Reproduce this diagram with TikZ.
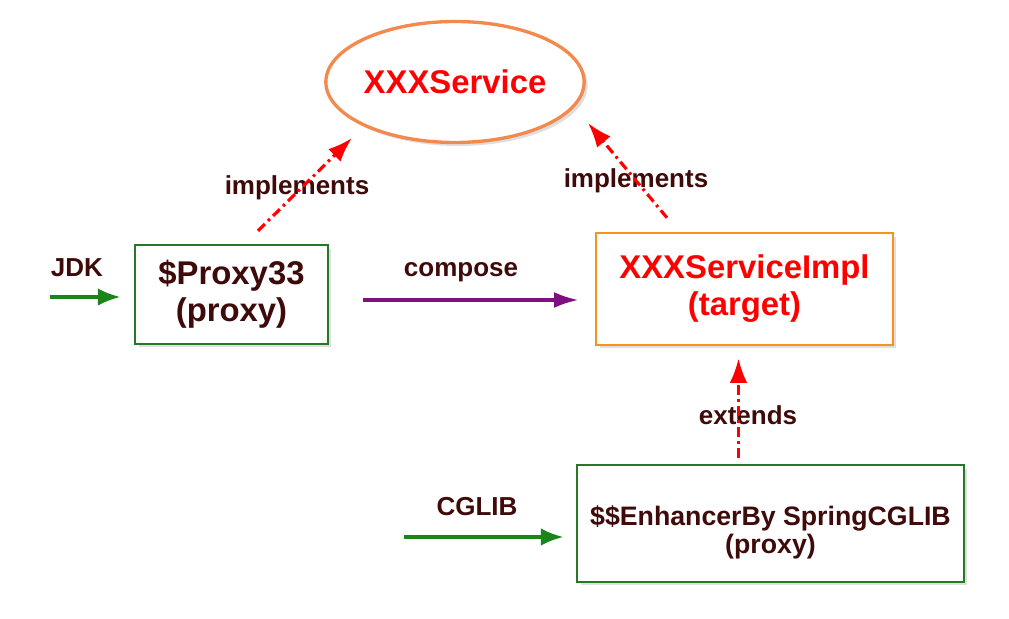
\documentclass[tikz,border=0pt]{standalone}
\usepackage{fontspec}
\setmainfont{Liberation Sans}
\usetikzlibrary{arrows.meta,shapes.geometric,shadows}
\definecolor{darkmaroon}{HTML}{3F0A0A}
\definecolor{boxgreen}{HTML}{247A24}
\definecolor{arrowgreen}{HTML}{1B851B}
\definecolor{ellorange}{HTML}{F28A4E}
\definecolor{boxorange}{HTML}{F7921E}
\definecolor{composepurple}{HTML}{7F107F}

\begin{document}
\begin{tikzpicture}[x=0.02cm,y=0.02cm,
  bigtxt/.style={font=\fontsize{18.7}{21}\selectfont\bfseries},
  lbl/.style={font=\fontsize{14.8}{17}\selectfont\bfseries,text=darkmaroon},
  classbox/.style={draw,line width=1.4pt,fill=white,inner sep=0pt,align=center,
    drop shadow={opacity=0.25,shadow xshift=2pt,shadow yshift=-2pt}},
  greenarrow/.style={draw=arrowgreen,line width=2.2pt,-{Latex[length=13pt,width=10pt]}},
  redarrow/.style={draw=red,line width=1.8pt,dash pattern=on 5.5pt off 2.5pt on 1.5pt off 2.5pt,
    -{Latex[length=14pt,width=10pt]}}]
  \useasboundingbox (0,0) rectangle (1009,619);
  % interface, target and the two proxies
  \node[ellipse,draw=ellorange,line width=1.9pt,fill=white,inner sep=0pt,
    minimum width=5.14cm,minimum height=2.42cm,bigtxt,text=red,
    drop shadow={opacity=0.25,shadow xshift=2pt,shadow yshift=-2pt}] (svc) at (455,537) {XXXService};
  \node[classbox,draw=boxgreen,minimum width=3.86cm,minimum height=1.98cm,bigtxt,text=darkmaroon]
    (proxy) at (231.5,324.5) {\$Proxy33\\(proxy)};
  \node[classbox,draw=boxorange,minimum width=5.94cm,minimum height=2.24cm,bigtxt,text=red]
    (impl) at (744.5,330) {XXXServiceImpl\\(target)};
  \node[classbox,draw=boxgreen,minimum width=7.74cm,minimum height=2.34cm,text=darkmaroon,
    font=\fontsize{15.2}{16}\selectfont\bfseries]
    (enh) at (770.5,95.5) {\raisebox{-9.5pt}[0pt][0pt]{\begin{tabular}{@{}c@{}}\$\$EnhancerBy SpringCGLIB\\(proxy)\end{tabular}}};

  % labels
  \node[lbl] (jdklbl) at (77,351) {JDK};
  \node[lbl] (cgliblbl) at (477,112) {CGLIB};
  \node[lbl] (complbl) at (461,347) {compose};
  \node[lbl] (impllblA) at (297,431) {implements};
  \node[lbl] (impllblB) at (636,438) {implements};
  \node[lbl] (extlbl) at (748,204) {extends};

  \coordinate (jdkstart) at (50,322);
  \coordinate (cglibstart) at (404,82);

  \draw[greenarrow] (jdkstart) -- ([shift={(-13,-2.5)}]proxy.west);
  \draw[greenarrow] (cglibstart) -- ([shift={(-12,-13.5)}]enh.west);
  \draw[draw=composepurple,line width=2pt,-{Latex[length=14pt,width=9pt]}]
    ([shift={(34,-5.5)}]proxy.east) -- ([shift={(-16,-11)}]impl.west);
  \draw[redarrow] ([shift={(26.5,13)}]proxy.north) -- ([shift={(-103,-56)}]svc.center);
  \draw[redarrow] ([shift={(-77.5,14)}]impl.north) -- ([shift={(133,-41)}]svc.center);
  \draw[redarrow] ([shift={(-32,6)}]enh.north) -- ([shift={(-6,-12)}]impl.south);
\end{tikzpicture}
\end{document}
